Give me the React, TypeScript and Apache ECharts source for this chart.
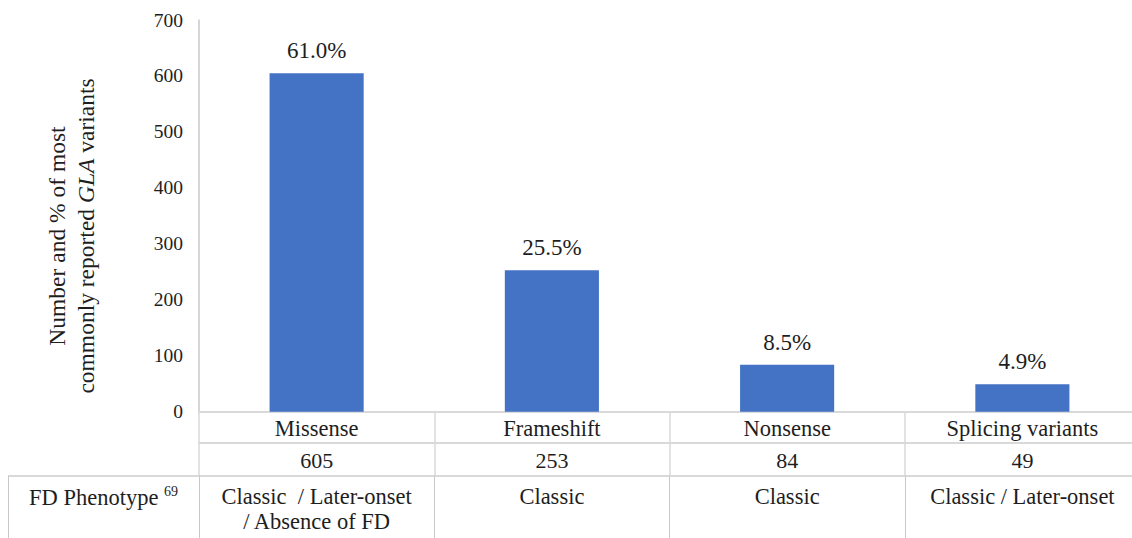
import React, { useEffect, useRef } from "react";
import * as echarts from "echarts";

const categories = ["Missense", "Frameshift", "Nonsense", "Splicing variants"];
const counts = [605, 253, 84, 49];
const percentLabels = ["61.0%", "25.5%", "8.5%", "4.9%"];
const phenotypes = [
  "Classic  / Later-onset\n/ Absence of FD",
  "Classic",
  "Classic",
  "Classic / Later-onset",
];
const yMin = 0;
const yMax = 700;
const yInterval = 100;

const FONT = "'Liberation Serif', 'Times New Roman', serif";
const TEXT = "#1e1e1e";
const LINE = "#d9d9d9";

export default function App() {
  const ref = useRef<HTMLDivElement>(null);

  useEffect(() => {
    if (!ref.current) return;
    const chart = echarts.init(ref.current, undefined, { renderer: "svg" });
    chart.setOption({
      animation: false,
      backgroundColor: "#ffffff",
      textStyle: { fontFamily: FONT, color: TEXT },
      grid: {
        left: 199,
        top: 20,
        width: 941,
        height: 391.7,
        containLabel: false,
        outerBoundsMode: "none",
      },
      xAxis: [
        {
          type: "category",
          position: "bottom",
          data: categories,
          axisLine: { show: true, lineStyle: { color: LINE, width: 2 } },
          axisTick: { show: true, alignWithLabel: false, length: 64.3, lineStyle: { color: LINE, width: 1.5 } },
          axisLabel: { fontFamily: FONT, fontSize: 22.5, lineHeight: 23, color: TEXT, margin: 5, interval: 0 },
          splitLine: { show: false },
        },
        {
          type: "category",
          position: "bottom",
          offset: 31,
          data: counts.map((c) => String(c)),
          axisLine: { show: true, lineStyle: { color: LINE, width: 2 } },
          axisTick: { show: false },
          axisLabel: { fontFamily: FONT, fontSize: 22, lineHeight: 23, color: TEXT, margin: 6.5, interval: 0 },
          splitLine: { show: false },
        },
        {
          type: "category",
          position: "bottom",
          offset: 64.3,
          data: phenotypes,
          axisLine: { show: true, lineStyle: { color: LINE, width: 2 } },
          axisTick: { show: true, alignWithLabel: false, length: 70, lineStyle: { color: "#c8c8c8", width: 1 } },
          axisLabel: { fontFamily: FONT, fontSize: 22.5, lineHeight: 25, color: TEXT, margin: 8, interval: 0 },
          splitLine: { show: false },
        },
      ],
      yAxis: {
        type: "value",
        min: yMin,
        max: yMax,
        interval: yInterval,
        axisLine: { show: true, lineStyle: { color: "#c8c8c8", width: 1.5 } },
        axisTick: { show: false },
        splitLine: { show: false },
        axisLabel: { fontFamily: FONT, fontSize: 19.5, color: TEXT, margin: 16 },
      },
      series: [
        {
          type: "bar",
          xAxisIndex: 0,
          data: counts,
          barWidth: "40%",
          itemStyle: { color: "#4472C4" },
          label: {
            show: true,
            position: "top",
            distance: 11,
            fontFamily: FONT,
            fontSize: 23,
            color: TEXT,
            formatter: (p: any) => percentLabels[p.dataIndex],
          },
        },
      ],
      graphic: [
        {
          type: "text",
          x: 71.5,
          y: 236,
          rotation: Math.PI / 2,
          style: {
            text: "{a|Number and % of most}\n{a|commonly reported }{i|GLA}{a| variants}",
            align: "center",
            verticalAlign: "middle",
            rich: {
              a: { fontFamily: FONT, fontSize: 23.5, fill: TEXT, lineHeight: 29 },
              i: { fontFamily: FONT, fontSize: 23.5, fill: TEXT, fontStyle: "italic", lineHeight: 29 },
            },
          },
        },
        { type: "line", shape: { x1: 8, y1: 476, x2: 199, y2: 476 }, style: { stroke: LINE, lineWidth: 2 } },
        { type: "line", shape: { x1: 8.5, y1: 476, x2: 8.5, y2: 540 }, style: { stroke: "#c8c8c8", lineWidth: 1 } },
        {
          type: "text",
          x: 103.5,
          y: 497,
          style: {
            text: "{m|FD Phenotype }{s|69}",
            align: "center",
            verticalAlign: "middle",
            rich: {
              m: { fontFamily: FONT, fontSize: 22.5, fill: TEXT, lineHeight: 25 },
              s: { fontFamily: FONT, fontSize: 14, fill: TEXT, lineHeight: 25, verticalAlign: "top", padding: [0, 0, 8, 0] },
            },
          },
        },
      ],
    });
    return () => chart.dispose();
  }, []);

  return (
    <div
      ref={ref}
      style={{ position: "absolute", left: 0, top: 0, width: 1132, height: 538, overflow: "hidden" }}
    />
  );
}
